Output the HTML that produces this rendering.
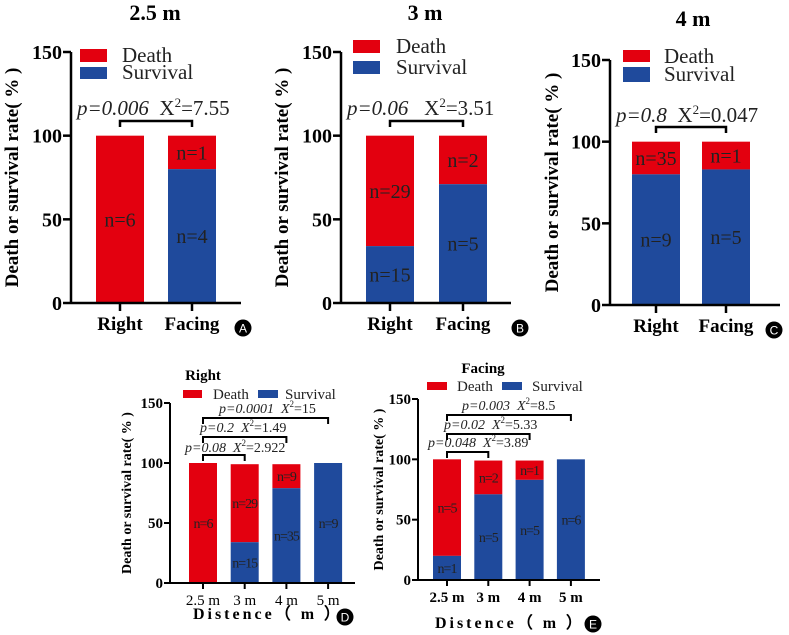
<!DOCTYPE html>
<html><head><meta charset="utf-8"><style>
body{margin:0;background:#fff}
svg{display:block;font-family:"Liberation Serif",serif}
</style></head><body>
<svg id="c" width="789" height="635" viewBox="0 0 789 635"></svg>
<script>
const groupsTop = ["Right","Facing"];
const survA = [0,80]; const nDeathA=["n=6","n=1"]; const nSurvA=["","n=4"];
const survB = [34,71]; const nDeathB=["n=29","n=2"]; const nSurvB=["n=15","n=5"];
const survC = [80,83]; const nDeathC=["n=35","n=1"]; const nSurvC=["n=9","n=5"];
const distCats = ["2.5 m","3 m","4 m","5 m"];
const survD = [0,34,79,100]; const topD=[100,99,99,100]; const nDeathD=["n=6","n=29","n=9",""]; const nSurvD=["","n=15","n=35","n=9"];
const survE = [20,71,83,100]; const topE=[100,99,99,100]; const nDeathE=["n=5","n=2","n=1",""]; const nSurvE=["n=1","n=5","n=5","n=6"];
const yTicks = [0,50,100,150];
const RED="#e3000f", BLUE="#1f4a9c";
const svg=document.getElementById('c');
const NS="http://www.w3.org/2000/svg";
function el(tag,at,parent){const e=document.createElementNS(NS,tag);for(const k in at)e.setAttribute(k,at[k]);(parent||svg).appendChild(e);return e;}
function txt(s,at,parent){const e=el('text',at,parent);e.textContent=s;return e;}

function panel(o){
  const g=el('g',{});
  
  
  const y=v=>o.y0-v*(o.y0-o.y150)/150;
  const fs=o.small?14:20;
  const sw=o.small?2:2.5;
  const t=txt(o.title,{x:o.tx,y:o.ty,'font-size':o.small?15:22,'font-weight':'bold','text-anchor':'middle'},g);
  
  o.cats.forEach((c,i)=>{
    const cx=o.x0+o.step*i, x=cx-o.bw/2;
    const top=o.tops?o.tops[i]:100;
    const s=o.surv[i];
    const rd=el('rect',{x:x,y:y(top),width:o.bw,height:y(s)-y(top),fill:RED},g);
    
    const rb=el('rect',{x:x,y:y(s),width:o.bw,height:y(0)-y(s),fill:BLUE},g);
    
    if(o.nd[i])txt(o.nd[i],{x:cx,y:(y(top)+y(s))/2+fs*0.35,'font-size':fs,'text-anchor':'middle',fill:'#222','letter-spacing':o.small?-1:0},g);
    if(o.ns[i])txt(o.ns[i],{x:cx,y:(y(s)+y(0))/2+fs*0.35,'font-size':fs,'text-anchor':'middle',fill:'#222','letter-spacing':o.small?-1:0},g);
    el('line',{x1:cx,x2:cx,y1:o.y0,y2:o.y0+(o.small?6:8),stroke:'#000','stroke-width':sw},g);
    const tl=txt(c,{x:cx,y:o.y0+(o.small?22:27),'font-size':o.small?15:19,'font-weight':o.small&&!o.boldx?'normal':'bold','text-anchor':'middle'},g);
    
  });
  el('line',{x1:o.ax,x2:o.ax,y1:o.y150,y2:o.y0,stroke:'#000','stroke-width':sw},g);
  el('line',{x1:o.ax,x2:o.xend,y1:o.y0,y2:o.y0,stroke:'#000','stroke-width':sw},g);
  yTicks.forEach(v=>{
    el('line',{x1:o.ax-(o.small?6:8),x2:o.ax,y1:y(v),y2:y(v),stroke:'#000','stroke-width':sw},g);
    txt(String(v),{x:o.ax-(o.small?7:9),y:y(v)+(o.small?5:7),'font-size':o.small?15:20,'font-weight':'bold','text-anchor':'end'},g);
  });
  const yt=txt('Death or survival rate( % )',{x:0,y:0,'font-size':o.small?14:19,'font-weight':'bold','text-anchor':'middle',transform:`translate(${o.ytx},${(o.y0+o.y150)/2}) rotate(-90)`},g);
  
  o.legend.forEach(L=>{
    const r=el('rect',{x:L[0],y:L[1],width:L[2],height:L[3],fill:L[4]},g);
    
    txt(L[5],{x:L[6],y:L[7],'font-size':o.small?15:21,fill:'#222'},g);
  });
  o.br.forEach(b=>{
    const xa=o.x0+o.step*b[0], xb=o.x0+o.step*b[1];
    el('path',{d:`M${xa},${b[2]+6}V${b[2]}H${xb}V${b[2]+6}`,fill:'none',stroke:'#000','stroke-width':sw},g);
    const tt=el('text',{x:b[3],y:b[4],'font-size':o.small?14:21,fill:'#222'},g);
    
    tt.innerHTML=b[5];
  });
  if(o.xt){const xt=txt(o.xt[0],{x:o.xt[1],y:o.xt[2],'font-size':16,'font-weight':'bold','text-anchor':'middle','letter-spacing':'3'},g);
    }
  el('circle',{cx:o.badge[0],cy:o.badge[1],r:8.5,fill:'#000'},g);
  txt(o.badge[2],{x:o.badge[0],y:o.badge[1]+4.5,'font-size':12,fill:'#fff','text-anchor':'middle','font-family':'Liberation Sans'},g);
}
function top3(name,title,tx,ty,surv,nd,ns,ax,y0,y150,x0,step,ytx,br,badge,leg){
  panel({name,title,tx,ty,cats:groupsTop,surv,nd,ns,ax,xend:ax+170,y0,y150,x0,step,bw:48,ytx,legend:leg,br,badge});
}
const P=(p,x,gap)=>`<tspan font-style="italic">p=${p}</tspan>${gap}X<tspan dy="-8" font-size="13">2</tspan><tspan dy="8">=${x}</tspan>`;
top3('panel-a-2.5m','2.5 m',155,20,survA,nDeathA,nSurvA,71,303,52,120,72,18,
 [[0,1,121,77,115,P('0.006','7.55','\u00a0\u00a0')]],[243,328,'A'],
 [[80,49,27,13,RED,'Death',122,62],[80,67,27,12,BLUE,'Survival',122,79]]);
top3('panel-b-3m','3 m',425,20,survB,nDeathB,nSurvB,341,303,52,390,73,288,
 [[0,1,121,347,115,P('0.06','3.51','\u00a0\u00a0\u00a0')]],[520,328,'B'],
 [[353,40,27,13,RED,'Death',396,53],[353,61,27,13,BLUE,'Survival',396,74]]);
top3('panel-c-4m','4 m',693,26,survC,nDeathC,nSurvC,610,305,60,656,70,558,
 [[0,1,127,616,122,P('0.8','0.047','\u00a0\u00a0')]],[774,330,'C'],
 [[623,50,27,12,RED,'Death',664,63],[623,67,27,15,BLUE,'Survival',664,81]]);
const it=(p,x)=>`<tspan font-style="italic">p=${p}\u00a0\u00a0X</tspan><tspan dy="-6" font-size="9">2</tspan><tspan dy="6">=${x}</tspan>`;
panel({name:'panel-d-right',title:'Right',tx:203,ty:380,small:true,cats:distCats,surv:survD,tops:topD,nd:nDeathD,ns:nSurvD,
 ax:170,xend:355,y0:583,y150:403,x0:203,step:41.7,bw:28,ytx:131,
 legend:[[183,390,19,8,RED,'Death',213,399],[258,390,20,8,BLUE,'Survival',285,399]],
 br:[[0,1,455,185,452,it('0.08','2.922')],[0,2,437,200,432,it('0.2','1.49')],[0,3,418,219,413,it('0.0001','15')]],
 xt:['Distence（ m ）',268,619],badge:[345,617,'D']});
panel({name:'panel-e-facing',title:'Facing',tx:483,ty:373,small:true,boldx:true,cats:distCats,surv:survE,tops:topE,nd:nDeathE,ns:nSurvE,
 ax:418,xend:600,y0:580,y150:399,x0:447,step:41.3,bw:28,ytx:383,
 legend:[[427,382,20,8,RED,'Death',457,391],[502,382,20,8,BLUE,'Survival',532,391]],
 br:[[0,1,452,428,447,it('0.048','3.89')],[0,2,434,444,429,it('0.02','5.33')],[0,3,415,462,410,it('0.003','8.5')]],
 xt:['Distence（ m ）',510,628],badge:[593,624,'E']});
</script>
</body></html>
